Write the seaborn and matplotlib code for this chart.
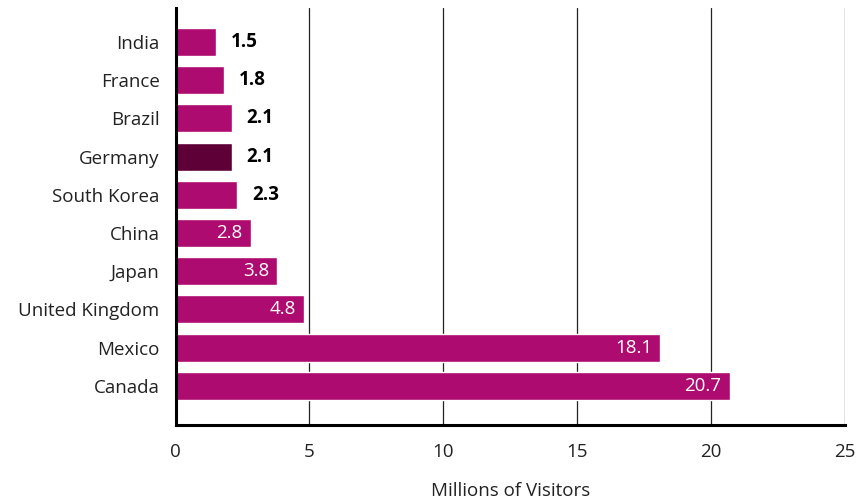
import pandas as pd
import matplotlib.pyplot as plt
import seaborn as sns

# --- Дані ---
countries = ['India', 'France', 'Brazil', 'Germany', 'South Korea', 'China',
             'Japan', 'United Kingdom', 'Mexico', 'Canada']
visitors = [1.5, 1.8, 2.1, 2.1, 2.3, 2.8, 3.8, 4.8, 18.1, 20.7]
highlight = 'Germany'

df = pd.DataFrame({'country': countries, 'visitors': visitors})

sns.set_style('white')
plt.rcParams['font.family'] = ['Open Sans', 'DejaVu Sans']

main_color = '#AD0B6F'
dark_color = '#5E0037'
palette = {c: (dark_color if c == highlight else main_color) for c in countries}

fig, ax = plt.subplots(figsize=(8.61, 4.98), dpi=100)
sns.barplot(data=df, y='country', x='visitors', hue='country', palette=palette,
            order=countries, legend=False, width=0.73, saturation=1, ax=ax)

ax.set_xlim(0, 25)
ax.set_ylim(10.02, -0.89)
ax.set_xticks([0, 5, 10, 15, 20, 25])
ax.grid(axis='x', color='#222222', linewidth=0.9)
ax.set_axisbelow(True)

for side in ['top', 'right']:
    ax.spines[side].set_visible(False)
ax.spines['left'].set_linewidth(2.2)
ax.spines['bottom'].set_linewidth(2.2)
ax.spines['left'].set_color('black')
ax.spines['bottom'].set_color('black')

ax.tick_params(axis='both', length=0, labelsize=13.5, colors='#222222')
ax.tick_params(axis='x', pad=13)
ax.tick_params(axis='y', pad=11.5)
ax.set_ylabel('')
ax.set_xlabel('Millions of Visitors', fontsize=13.5, color='#222222', labelpad=15)

# --- Підписи значень ---
for i, v in enumerate(visitors):
    if v >= 2.5:
        ax.text(v - 0.3, i, f'{v}', ha='right', va='center', color='white',
                fontsize=13.5)
    else:
        ax.text(v + 0.55, i, f'{v}', ha='left', va='center', color='black',
                fontsize=13.5, fontweight='bold')

plt.subplots_adjust(left=0.204, right=0.981, top=0.984, bottom=0.147)
plt.savefig('out.png')
plt.close()
